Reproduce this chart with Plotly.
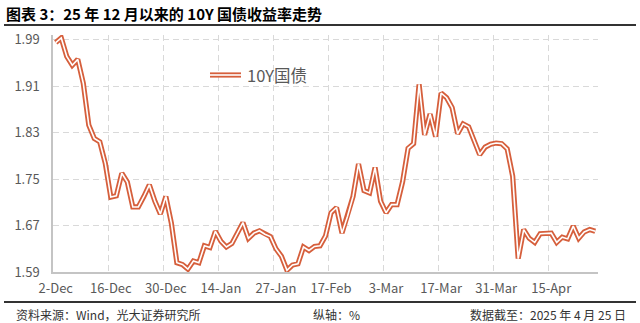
import plotly.graph_objects as go

# 10Y China government bond yield (%), one value per trading day, 2 Dec 2024 - 25 Apr 2025
yields = [
    1.985, 1.993, 1.961, 1.946, 1.956, 1.915, 1.843, 1.820, 1.814, 1.777,
    1.719, 1.721, 1.760, 1.745, 1.702, 1.702, 1.720, 1.740, 1.712, 1.690,
    1.720, 1.674, 1.606, 1.603, 1.595, 1.609, 1.606, 1.635, 1.632, 1.660,
    1.643, 1.633, 1.639, 1.656, 1.675, 1.648, 1.657, 1.661, 1.655, 1.651,
    1.630, 1.617, 1.593, 1.602, 1.604, 1.633, 1.627, 1.634, 1.635, 1.652,
    1.692, 1.701, 1.657, 1.686, 1.720, 1.776, 1.730, 1.726, 1.770, 1.712,
    1.692, 1.706, 1.706, 1.745, 1.803, 1.811, 1.913, 1.826, 1.862, 1.823,
    1.898, 1.890, 1.873, 1.828, 1.845, 1.840, 1.815, 1.792, 1.805, 1.810,
    1.812, 1.811, 1.802, 1.755, 1.613, 1.663, 1.648, 1.641, 1.656, 1.657,
    1.657, 1.641, 1.650, 1.647, 1.669, 1.648, 1.659, 1.663, 1.660,
]
day_index = list(range(len(yields)))

# date labels shown every 10 trading days
tick_labels = ["2-Dec", "16-Dec", "30-Dec", "14-Jan", "27-Jan",
               "17-Feb", "3-Mar", "17-Mar", "31-Mar", "15-Apr"]
tick_step = 10
tick_positions = [i * tick_step for i in range(len(tick_labels))]

y_ticks = [1.59, 1.67, 1.75, 1.83, 1.91, 1.99]

series_name = "10Y国债"
title_text = "图表 3：25 年 12 月以来的 10Y 国债收益率走势"
source_text = "资料来源：Wind，光大证券研究所"
unit_text = "纵轴：%"
asof_text = "数据截至：2025 年 4 月 25 日"

LINE_COLOR = "#D65F3C"
GRID_COLOR = "#D9D9D9"
AXIS_COLOR = "#C4C4C4"
TEXT_GRAY = "#595959"
FONT = "Noto Sans CJK SC"

W, H = 640, 323
M_L, M_R, M_T, M_B = 53, 42, 35, 51
plot_w = W - M_L - M_R
plot_h = H - M_T - M_B


def px_x(px):
    return (px - M_L) / plot_w


def px_y(py):
    return (H - M_B - py) / plot_h


fig = go.Figure()

# double-stroke line: wide coloured stroke with a thin white core
fig.add_trace(go.Scatter(
    x=day_index, y=yields, mode="lines", name=series_name,
    line=dict(color=LINE_COLOR, width=5.2), showlegend=False, hoverinfo="skip",
))
fig.add_trace(go.Scatter(
    x=day_index, y=yields, mode="lines", name=series_name,
    line=dict(color="white", width=1.6), showlegend=False,
))

shapes = [
    # legend sample
    dict(type="line", xref="paper", yref="paper",
         x0=px_x(210), x1=px_x(241), y0=px_y(75), y1=px_y(75),
         line=dict(color=LINE_COLOR, width=5.2)),
    dict(type="line", xref="paper", yref="paper",
         x0=px_x(210), x1=px_x(241), y0=px_y(75), y1=px_y(75),
         line=dict(color="white", width=1.6)),
    # rules under the title and above the footer
    dict(type="line", xref="paper", yref="paper",
         x0=px_x(4), x1=px_x(636), y0=px_y(25), y1=px_y(25),
         line=dict(color="#333333", width=2)),
    dict(type="line", xref="paper", yref="paper",
         x0=px_x(4), x1=px_x(636), y0=px_y(302), y1=px_y(302),
         line=dict(color="#333333", width=2)),
]

annotations = [
    dict(text=series_name, x=px_x(245), y=px_y(75), xref="paper", yref="paper",
         xanchor="left", yanchor="middle", showarrow=False,
         font=dict(family=FONT, size=16.5, color=TEXT_GRAY)),
    dict(text=f"<b>{title_text}</b>", x=px_x(4), y=px_y(13.5), xref="paper", yref="paper",
         xanchor="left", yanchor="middle", showarrow=False,
         font=dict(family=FONT, size=15, color="#000000")),
    dict(text=source_text, x=px_x(14), y=px_y(314), xref="paper", yref="paper",
         xanchor="left", yanchor="middle", showarrow=False,
         font=dict(family=FONT, size=12, color="#333333")),
    dict(text=unit_text, x=px_x(311), y=px_y(314), xref="paper", yref="paper",
         xanchor="left", yanchor="middle", showarrow=False,
         font=dict(family=FONT, size=12, color="#333333")),
    dict(text=asof_text, x=px_x(628), y=px_y(314), xref="paper", yref="paper",
         xanchor="right", yanchor="middle", showarrow=False,
         font=dict(family=FONT, size=12, color="#333333")),
]

fig.update_layout(
    width=W, height=H,
    margin=dict(l=M_L, r=M_R, t=M_T, b=M_B, pad=0),
    paper_bgcolor="white", plot_bgcolor="white",
    font=dict(family=FONT, size=13, color=TEXT_GRAY),
    showlegend=False,
    shapes=shapes,
    annotations=annotations,
    xaxis=dict(
        range=[-0.5, len(yields) - 0.5],
        tickmode="array", tickvals=tick_positions, ticktext=tick_labels,
        showgrid=False, zeroline=False,
        showline=True, linecolor=AXIS_COLOR, linewidth=1.5,
        ticks="", ticklabelstandoff=4,
        tickfont=dict(family=FONT, size=13, color=TEXT_GRAY),
        minor=dict(tickmode="linear", tick0=-0.5, dtick=tick_step,
                   showgrid=True, gridcolor=GRID_COLOR, gridwidth=1,
                   griddash="6px,4px", ticks=""),
    ),
    yaxis=dict(
        range=[1.59, 1.998],
        tickmode="array", tickvals=y_ticks, ticktext=[f"{v:.2f}" for v in y_ticks],
        showgrid=True, gridcolor=GRID_COLOR, gridwidth=1, griddash="6px,4px",
        zeroline=False,
        showline=True, linecolor=AXIS_COLOR, linewidth=1.5,
        ticks="", ticklabelstandoff=9,
        tickfont=dict(family=FONT, size=13, color=TEXT_GRAY),
    ),
)

fig.write_html("out.html")
